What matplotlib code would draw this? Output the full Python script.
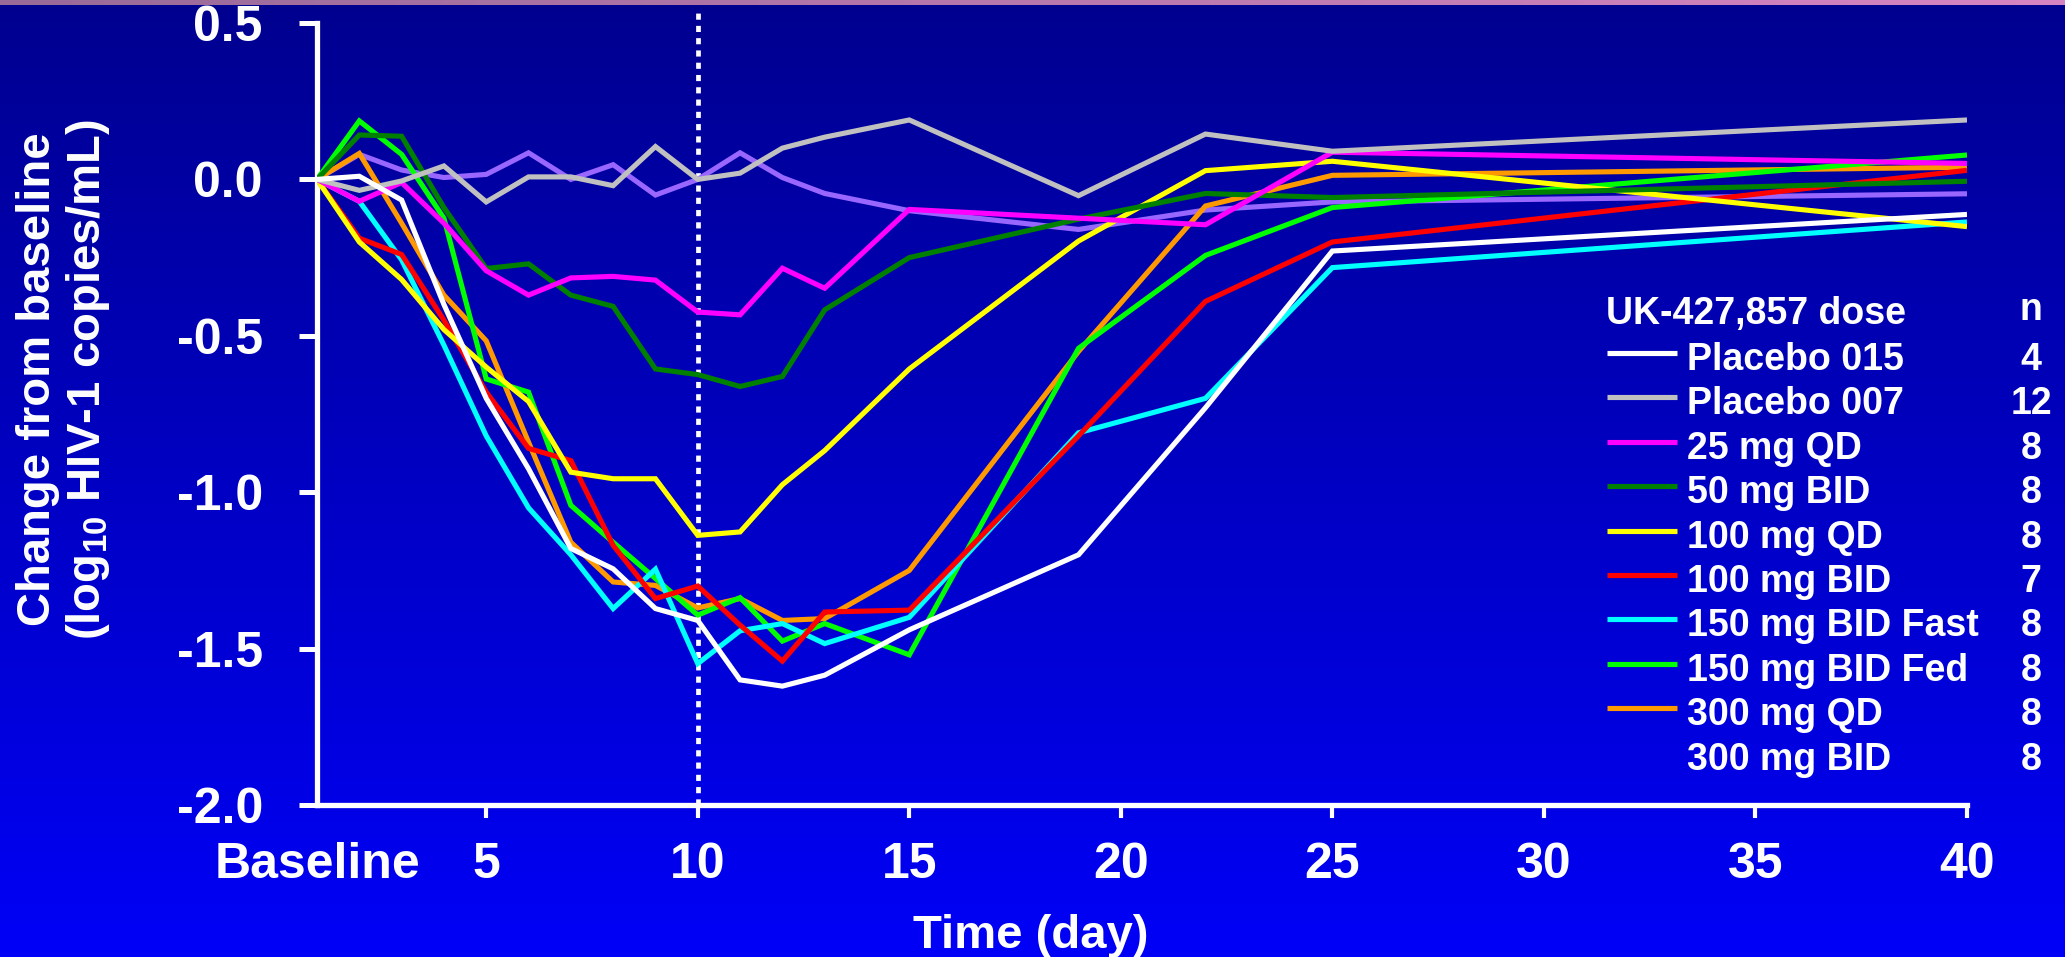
import numpy as np
import matplotlib
matplotlib.use("Agg")
import matplotlib.pyplot as plt
from matplotlib.lines import Line2D

# ---------------- data ----------------
days = [1, 2, 3, 4, 5, 6, 7, 8, 9, 10, 11, 12, 13, 15, 19, 22, 25, 40]

placebo_015 = [0, 0.01, -0.066, -0.40, -0.70, -0.925, -1.18, -1.245, -1.372, -1.41,
               -1.60, -1.62, -1.585, -1.44, -1.20, -0.73, -0.229, -0.112]
placebo_007 = [0, -0.035, -0.005, 0.043, -0.072, 0.008, 0.008, -0.02, 0.105, 0.0,
               0.02, 0.10, 0.135, 0.19, -0.052, 0.145, 0.09, 0.19]
mg25_qd = [0, -0.07, -0.01, -0.14, -0.292, -0.37, -0.315, -0.31, -0.322, -0.424,
           -0.433, -0.284, -0.348, -0.096, -0.124, -0.145, 0.087, 0.051]
mg50_bid = [0, 0.142, 0.138, -0.09, -0.285, -0.27, -0.37, -0.406, -0.606, -0.624,
            -0.662, -0.63, -0.417, -0.25, -0.127, -0.045, -0.058, -0.006]
mg100_qd = [0, -0.20, -0.32, -0.48, -0.60, -0.71, -0.936, -0.957, -0.957, -1.138,
            -1.127, -0.976, -0.867, -0.606, -0.197, 0.028, 0.058, -0.151]
mg100_bid = [0, -0.188, -0.24, -0.45, -0.68, -0.86, -0.899, -1.17, -1.34, -1.30,
             -1.425, -1.54, -1.383, -1.377, -0.82, -0.39, -0.20, 0.029]
mg150_bid_fast = [0, -0.07, -0.257, -0.53, -0.82, -1.05, -1.20, -1.372, -1.246, -1.548,
                  -1.443, -1.42, -1.484, -1.40, -0.81, -0.70, -0.282, -0.136]
mg150_bid_fed = [0, 0.187, 0.08, -0.124, -0.638, -0.68, -1.042, -1.16, -1.276, -1.393,
                 -1.337, -1.476, -1.42, -1.52, -0.54, -0.243, -0.09, 0.078]
mg300_qd = [0, 0.083, -0.14, -0.37, -0.516, -0.84, -1.16, -1.287, -1.298, -1.37,
            -1.34, -1.41, -1.404, -1.25, -0.55, -0.085, 0.013, 0.039]
mg300_bid = [0, 0.08, 0.03, 0.006, 0.016, 0.085, 0.0, 0.047, -0.05, 0.0,
             0.085, 0.006, -0.045, -0.10, -0.16, -0.098, -0.072, -0.046]

series_labels = ["Placebo 015", "Placebo 007", "25 mg QD", "50 mg BID", "100 mg QD",
                 "100 mg BID", "150 mg BID Fast", "150 mg BID Fed", "300 mg QD", "300 mg BID"]
series_n = ["4", "12", "8", "8", "8", "7", "8", "8", "8", "8"]
series_colors = ["#FFFFFF", "#C0C0C0", "#FF00FF", "#008000", "#FFFF00",
                 "#FF0000", "#00FFFF", "#00FF00", "#FF9900", "#9966FF"]
series_handle = [True, True, True, True, True, True, True, True, True, False]
series_values = [placebo_015, placebo_007, mg25_qd, mg50_bid, mg100_qd,
                 mg100_bid, mg150_bid_fast, mg150_bid_fed, mg300_qd, mg300_bid]

xtick_pos = [1, 5, 10, 15, 20, 25, 30, 35, 40]
xtick_labels = ["Baseline", "5", "10", "15", "20", "25", "30", "35", "40"]
ytick_pos = [-2.0, -1.5, -1.0, -0.5, 0.0, 0.5]
ytick_labels = ["-2.0", "-1.5", "-1.0", "-0.5", "0.0", "0.5"]
dosing_end_day = 10

legend_title = "UK-427,857 dose"
legend_n_title = "n"
xlabel = "Time (day)"
ylabel = "Change from baseline\n(log$_{10}$ HIV-1 copies/mL)"

# ---------------- figure ----------------
plt.rcParams['font.family'] = ['Liberation Sans', 'DejaVu Sans']
plt.rcParams['font.weight'] = 'bold'
plt.rcParams['mathtext.fontset'] = 'custom'
plt.rcParams['mathtext.rm'] = 'Liberation Sans:bold'
plt.rcParams['mathtext.default'] = 'rm'

W, H = 2065, 957
fig = plt.figure(figsize=(W / 100, H / 100), dpi=100)

def fx(px):
    return px / W

def fy(py):
    return 1 - py / H

# background gradient
bg = fig.add_axes([0, 0, 1, 1], zorder=-10)
grad = np.linspace(0, 1, 256).reshape(-1, 1)
top_c = np.array([0.0, 0.0, 0.56])
bot_c = np.array([0.0, 0.0, 0.97])
img = top_c[None, None, :] * (1 - grad[:, :, None]) + bot_c[None, None, :] * grad[:, :, None]
bg.imshow(img, aspect='auto', extent=[0, 1, 0, 1], origin='upper')
bg.set_axis_off()

# top stripe
st = fig.add_axes([0, fy(5), 1, 5 / H], zorder=-9)
hg = np.linspace(0, 1, 256).reshape(1, -1)
lc = np.array([0.60, 0.42, 0.60])
rc = np.array([0.84, 0.52, 0.76])
simg = lc[None, None, :] * (1 - hg[:, :, None]) + rc[None, None, :] * hg[:, :, None]
st.imshow(simg, aspect='auto', extent=[0, 1, 0, 1])
st.set_axis_off()

ax = fig.add_axes([fx(317), fy(805), fx(1967) - fx(317), fy(23) - fy(805)])
ax.set_facecolor('none')
ax.set_xlim(1, 40)
ax.set_ylim(-2.0, 0.5)

n = len(series_values)
for i in reversed(range(n)):
    ax.plot(days, series_values[i], color=series_colors[i], lw=3.7,
            solid_joinstyle='miter', solid_capstyle='butt', zorder=3 + (n - i) * 0.1)

ax.plot([dosing_end_day, dosing_end_day], [-2.0, 0.542], color='white', lw=3.4,
        linestyle=(0, (1.3, 1.3)), clip_on=False, zorder=2)

for s in ['top', 'right']:
    ax.spines[s].set_visible(False)
for s in ['left', 'bottom']:
    ax.spines[s].set_color('white')
    ax.spines[s].set_linewidth(3.8)

ax.set_xticks(xtick_pos)
ax.set_xticklabels(xtick_labels)
ax.set_yticks(ytick_pos)
ax.set_yticklabels(ytick_labels)
ax.tick_params(axis='x', colors='white', length=9.5, width=3, pad=17, labelsize=36)
ax.tick_params(axis='y', colors='white', length=13, width=3.6, pad=26, labelsize=36)
ax.xaxis.get_major_ticks()[0].tick1line.set_visible(False)
for lab in ax.get_xticklabels() + ax.get_yticklabels():
    lab.set_fontweight('bold')

fig.text(fx(1031), fy(948), xlabel, color='white', fontsize=34, fontweight='bold',
         ha='center', va='baseline')
fig.text(fx(64), fy(379), ylabel, color='white', fontsize=34, fontweight='bold',
         ha='center', va='center', rotation=90, multialignment='center',
         linespacing=1.1)

# legend (manual)
fig.text(fx(1606), fy(324), legend_title, color='white', fontsize=27,
         fontweight='bold', ha='left', va='baseline')
fig.text(fx(2031), fy(320), legend_n_title, color='white', fontsize=27,
         fontweight='bold', ha='center', va='baseline')
for i in range(n):
    base = 370 + i * 44.4
    if series_handle[i]:
        fig.add_artist(Line2D([fx(1607), fx(1677)], [fy(base - 17), fy(base - 17)],
                              color=series_colors[i], lw=3.7, solid_capstyle='butt',
                              transform=fig.transFigure))
    fig.text(fx(1687), fy(base), series_labels[i], color='white', fontsize=27,
             fontweight='bold', ha='left', va='baseline')
    fig.text(fx(2031), fy(base), series_n[i], color='white', fontsize=27,
             fontweight='bold', ha='center', va='baseline')

fig.savefig('out.png', dpi=100)
